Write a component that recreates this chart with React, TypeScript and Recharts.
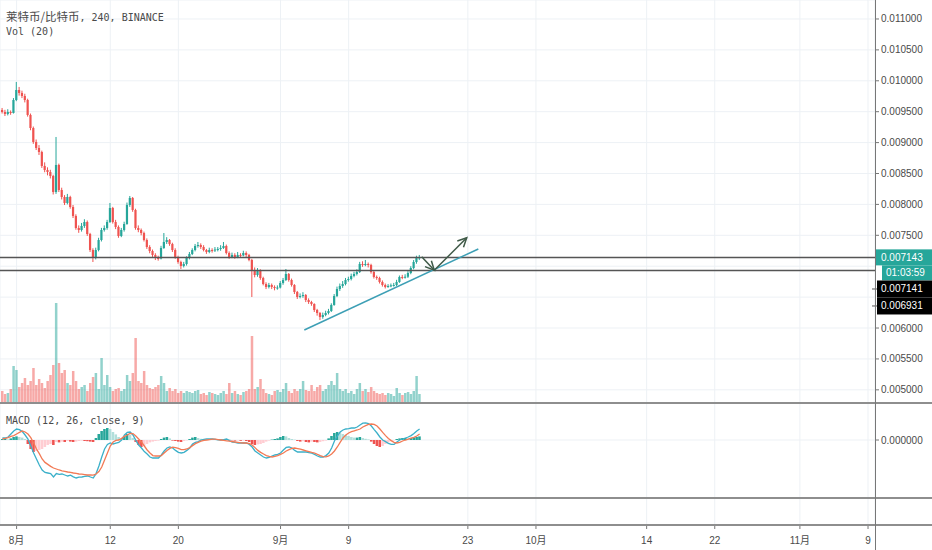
import {
  Bar,
  CartesianGrid,
  Cell,
  ComposedChart,
  Line,
  ReferenceLine,
  XAxis,
  YAxis,
} from "recharts";

// LTC/BTC, 8h candles, prices in 1e-6 BTC
const opens = [
  9528, 9495, 9463, 9495, 9479, 9689, 9851, 9803, 9754, 9689,
  9447, 9236, 9010, 8913, 8848, 8622, 8557, 8524, 8460, 8201,
  8638, 8233, 8120, 8023, 8120, 7958, 7813, 7618, 7586, 7651,
  7715, 7521, 7262, 7133, 7262, 7424, 7586, 7618, 7715, 7942,
  7715, 7635, 7489, 7586, 7683, 7991, 8104, 7910, 7618, 7586,
  7537, 7424, 7311, 7246, 7182, 7133, 7125, 7295, 7392, 7424,
  7359, 7262, 7149, 7068, 7004, 7036, 7133, 7198, 7262, 7327,
  7343, 7311, 7262, 7230, 7262, 7255, 7270, 7279, 7295, 7327,
  7214, 7149, 7182, 7149, 7182, 7175, 7214, 7182, 7101, 6939,
  6858, 6939, 6809, 6712, 6664, 6696, 6664, 6648, 6655, 6728,
  6777, 6874, 6777, 6696, 6583, 6502, 6518, 6534, 6453, 6421,
  6389, 6292, 6243, 6178, 6211, 6243, 6275, 6373, 6518, 6631,
  6680, 6712, 6777, 6793, 6842, 6874, 6906, 7036, 7020, 7036,
  7020, 6906, 6826, 6809, 6745, 6696, 6664, 6680, 6690, 6696,
  6745, 6826, 6815, 6830, 6890, 6971, 7068, 7133,
];
const highs = [
  9560, 9530, 9540, 9520, 9720, 9981, 9900, 9840, 9790, 9710,
  9470, 9260, 9050, 8960, 8870, 8680, 8600, 8560, 8480, 9091,
  8660, 8270, 8150, 8170, 8140, 7990, 7840, 7660, 7700, 7760,
  7740, 7540, 7290, 7300, 7460, 7620, 7660, 7750, 8023, 7960,
  7750, 7660, 7620, 7720, 8030, 8136, 8120, 7930, 7660, 7610,
  7560, 7450, 7340, 7270, 7210, 7170, 7330, 7537, 7470, 7440,
  7380, 7290, 7170, 7090, 7070, 7160, 7230, 7290, 7360, 7392,
  7370, 7340, 7280, 7300, 7290, 7310, 7310, 7340, 7392, 7350,
  7240, 7220, 7210, 7230, 7210, 7250, 7240, 7200, 7120, 6980,
  6970, 6950, 6830, 6740, 6730, 6720, 6690, 6690, 6760, 6810,
  6955, 6890, 6800, 6710, 6600, 6560, 6580, 6550, 6480, 6440,
  6400, 6310, 6260, 6250, 6280, 6310, 6400, 6550, 6670, 6720,
  6760, 6810, 6830, 6880, 6910, 6950, 7070, 7080, 7101, 7060,
  7040, 6930, 6850, 6830, 6770, 6720, 6710, 6720, 6730, 6780,
  6850, 6860, 6870, 6920, 7000, 7100, 7170, 7182,
];
const lows = [
  9470, 9430, 9440, 9450, 9470, 9670, 9760, 9720, 9650, 9420,
  9200, 8980, 8880, 8800, 8590, 8520, 8470, 8420, 8160, 8170,
  8200, 8080, 7990, 8000, 7930, 7780, 7590, 7540, 7560, 7620,
  7490, 7230, 7068, 7110, 7240, 7400, 7560, 7590, 7700, 7690,
  7600, 7460, 7470, 7560, 7670, 7960, 7880, 7590, 7550, 7500,
  7400, 7280, 7210, 7150, 7100, 7090, 7110, 7280, 7360, 7330,
  7230, 7120, 7040, 6955, 6980, 7010, 7110, 7180, 7240, 7300,
  7280, 7240, 7200, 7210, 7220, 7230, 7240, 7250, 7280, 7190,
  7120, 7130, 7120, 7130, 7150, 7160, 7150, 7080, 6502, 6820,
  6830, 6780, 6690, 6630, 6640, 6630, 6610, 6620, 6640, 6700,
  6760, 6750, 6670, 6550, 6470, 6480, 6490, 6420, 6390, 6360,
  6260, 6200, 6130, 6150, 6190, 6220, 6260, 6360, 6500, 6600,
  6650, 6690, 6750, 6770, 6820, 6850, 6890, 6990, 7000, 6980,
  6880, 6800, 6780, 6720, 6670, 6640, 6650, 6660, 6670, 6680,
  6730, 6790, 6800, 6810, 6870, 6950, 7040, 7100,
];
const closes = [
  9495, 9463, 9495, 9479, 9689, 9851, 9803, 9754, 9689, 9447,
  9236, 9010, 8913, 8848, 8622, 8557, 8524, 8460, 8201, 8638,
  8233, 8120, 8023, 8120, 7958, 7813, 7618, 7586, 7651, 7715,
  7521, 7262, 7133, 7262, 7424, 7586, 7618, 7715, 7942, 7715,
  7635, 7489, 7586, 7683, 7991, 8104, 7910, 7618, 7586, 7537,
  7424, 7311, 7246, 7182, 7133, 7125, 7295, 7392, 7424, 7359,
  7262, 7149, 7068, 7004, 7036, 7133, 7198, 7262, 7327, 7343,
  7311, 7262, 7230, 7262, 7255, 7270, 7279, 7295, 7327, 7214,
  7149, 7182, 7149, 7182, 7175, 7214, 7182, 7101, 6939, 6858,
  6939, 6809, 6712, 6664, 6696, 6664, 6648, 6655, 6728, 6777,
  6874, 6777, 6696, 6583, 6502, 6518, 6534, 6453, 6421, 6389,
  6292, 6243, 6178, 6211, 6243, 6275, 6373, 6518, 6631, 6680,
  6712, 6777, 6793, 6842, 6874, 6906, 7036, 7020, 7036, 7020,
  6906, 6826, 6809, 6745, 6696, 6664, 6680, 6690, 6696, 6745,
  6826, 6815, 6830, 6890, 6971, 7068, 7133, 7143,
];
// volume, arbitrary units
const volumes = [
  12, 9, 10, 14, 37, 33, 16, 20, 25, 18,
  22, 35, 18, 24, 20, 15, 22, 28, 38, 100,
  40, 30, 33, 20, 18, 32, 22, 14, 16, 18,
  12, 20, 26, 30, 14, 45, 18, 28, 16, 12,
  14, 15, 12, 14, 28, 22, 30, 65, 22, 20,
  32, 18, 15, 14, 16, 18, 27, 20, 12, 15,
  12, 14, 10, 12, 10, 12, 11, 10, 12, 13,
  9, 10, 8, 11, 10, 9, 8, 10, 12, 9,
  20, 10, 12, 9, 8, 11, 12, 14, 67, 14,
  16, 24, 14, 10, 9, 8, 12, 13, 11, 14,
  20, 12, 10, 14, 12, 14, 22, 13, 12, 18,
  12, 16, 18, 12, 14, 18, 22, 18, 30, 14,
  12, 14, 10, 12, 9, 14, 20, 12, 14, 11,
  16, 12, 10, 9, 10, 8, 10, 9, 7, 15,
  10, 8, 10, 11, 9, 12, 27, 9,
];
// MACD (12, 26, close, 9), in 1e-6 BTC
const macdLine = [
  10, 10, 15, 30, 45, 55, 52, 42, 25, 5,
  -30, -65, -95, -125, -150, -162, -165, -168, -185, -168,
  -172, -170, -175, -180, -176, -184, -190, -186, -185, -182,
  -180, -185, -190, -168, -130, -85, -45, -22, -15, -20,
  -16, -12, 0, 25, 38, 40, 25, -2, -25, -40,
  -58, -70, -85, -90, -90, -90, -75, -55, -40, -35,
  -40, -52, -62, -65, -62, -52, -40, -20, -12, -8,
  0, 3, 5, 5, 5, 3, 1, 0, 2, 5,
  -3, -10, -12, -15, -15, -15, -15, -22, -35, -55,
  -65, -75, -85, -90, -87, -80, -75, -72, -65, -50,
  -37, -35, -40, -52, -60, -60, -60, -60, -63, -66,
  -72, -80, -85, -85, -78, -65, -40, -5, 20, 40,
  50, 55, 57, 60, 60, 65, 75, 84, 86, 82,
  70, 52, 35, 15, 0, -8, -17, -22, -22, -10,
  0, 5, 10, 15, 22, 32, 45, 55,
];
const signalLine = [
  5, 8, 12, 18, 22, 30, 38, 45, 40, 30,
  12, -15, -45, -68, -95, -112, -122, -132, -140, -145,
  -150, -154, -157, -160, -162, -165, -167, -170, -171, -173,
  -175, -175, -176, -170, -158, -135, -100, -65, -30, -10,
  -2, 0, 8, 18, 25, 33, 32, 20, 5, -10,
  -30, -50, -65, -78, -80, -80, -78, -65, -52, -42,
  -36, -38, -42, -48, -48, -45, -38, -28, -18, -12,
  -6, -2, 0, 2, 4, 4, 2, 0, -2, -4,
  -6, -8, -10, -12, -14, -15, -15, -18, -25, -38,
  -52, -62, -70, -78, -82, -85, -82, -78, -72, -65,
  -55, -48, -42, -40, -43, -46, -50, -54, -58, -62,
  -65, -72, -78, -83, -84, -80, -70, -55, -35, -12,
  10, 25, 35, 42, 46, 50, 55, 65, 72, 78,
  80, 78, 70, 55, 38, 22, 8, -3, -12, -15,
  -12, -5, 0, 4, 9, 13, 20, 30,
];
const histogram = [
  5, 5, 3, 8, 15, 18, 15, 12, 5, -20,
  -45, -60, -55, -50, -45, -35, -25, -20, -25, -10,
  -12, -8, -10, -5, -8, -10, -8, -5, -3, -5,
  -6, -8, -10, 10, 30, 45, 55, 60, 55, 40,
  28, 15, 5, 20, 30, 25, 10, -10, -25, -35,
  -30, -20, -12, -8, -5, -3, 5, 12, 15, 8,
  -3, -5, -8, -10, -5, -2, 5, 12, 15, 10,
  6, 4, 2, 2, 1, 0, 1, 2, 3, 5,
  3, -2, -3, -2, -4, -3, -5, -10, -20, -25,
  -22, -20, -15, -8, -3, 2, 5, 8, 15, 20,
  18, 10, 5, 2, -5, -8, -6, -10, -12, -8,
  -10, -12, -10, -6, -3, 8, 20, 35, 40, 38,
  30, 25, 20, 15, 12, 12, 15, 10, 6, 3,
  -8, -20, -30, -35, -30, -20, -12, -6, -2, 5,
  8, 10, 10, 8, 10, 12, 15, 18,
];

// time axis: days counted from 1 Aug
const dateTicks = [0, 11, 19, 31, 39, 53, 61, 74, 82, 92, 100];
const dateLabels = ["8月", "12", "20", "9月", "9", "23", "10月", "14", "22", "11月", "9"];
const priceTicks = [5000, 5500, 6000, 6500, 7000, 7500, 8000, 8500, 9000, 9500, 10000, 10500, 11000];
const hiddenPriceLabels = [6500, 7000];

const LAST_PRICE = 7143;
const LEVEL_HIGH = 7141;
const LEVEL_LOW = 6931;
const COUNTDOWN = "01:03:59";

const FIRST_CANDLE_DAY = -5 / 3; // 30 Jul 08:00
const CANDLE_DAYS = 1 / 3;
const X_DOMAIN = [-1.95, 100.82];
const PRICE_DOMAIN = [4787, 11307];
const VOL_DOMAIN = [0, 403];
const MACD_DOMAIN = [-290, 185];

const UP = "#26a69a";
const DOWN = "#ef5350";
const GRID = "#edf1f5";
const TEXT = "#4a4a4a";
const TICK_FONT = '"Liberation Sans", "Noto Sans CJK SC", Arial, sans-serif';
const MONO = '"DejaVu Sans Mono", monospace';

const data = closes.map((close, i) => ({
  t: FIRST_CANDLE_DAY + i * CANDLE_DAYS,
  open: opens[i],
  high: highs[i],
  low: lows[i],
  close,
  volume: volumes[i],
  macd: macdLine[i],
  signal: signalLine[i],
  hist: histogram[i],
}));

const fmtPrice = (v: number) => (v / 1e6).toFixed(6);

function histColor(i: number) {
  const v = histogram[i];
  const prev = i > 0 ? histogram[i - 1] : 0;
  if (v >= 0) return v >= prev ? "#26a69a" : "#b2dfdb";
  return v <= prev ? "#ef5350" : "#ffcdd2";
}

function Candle(props: any) {
  const { x, y, width, height, payload } = props;
  if (x == null || y == null) return <g />;
  const top = Math.min(y, y + height);
  const h = Math.abs(height);
  const span = payload.high - payload.low || 1;
  const toY = (v: number) => top + ((payload.high - v) / span) * h;
  const color = payload.close >= payload.open ? UP : DOWN;
  const bodyTop = toY(Math.max(payload.open, payload.close));
  const bodyBottom = toY(Math.min(payload.open, payload.close));
  const cx = x + width / 2;
  return (
    <g>
      <line x1={cx} x2={cx} y1={top} y2={top + h} stroke={color} strokeWidth={1} />
      <rect x={x} y={bodyTop} width={width} height={Math.max(1, bodyBottom - bodyTop)} fill={color} />
    </g>
  );
}

function PriceTick(props: any) {
  const { x, y, payload } = props;
  if (hiddenPriceLabels.includes(payload.value)) return <g />;
  return (
    <g>
      <line x1={x} x2={x + 4} y1={y} y2={y} stroke="#777" />
      <text x={x + 6} y={y + 3.5} fontSize={10} fontFamily={TICK_FONT} fill={TEXT}>
        {fmtPrice(payload.value)}
      </text>
    </g>
  );
}

function plainTick(text: string) {
  return (props: any) => {
    const { x, y } = props;
    return (
      <g>
        <line x1={x} x2={x + 4} y1={y} y2={y} stroke="#777" />
        <text x={x + 6} y={y + 3.5} fontSize={10} fontFamily={TICK_FONT} fill={TEXT}>
          {text}
        </text>
      </g>
    );
  };
}

function DateTick(props: any) {
  const { x, y, payload } = props;
  const label = dateLabels[dateTicks.indexOf(payload.value)];
  return (
    <g>
      <line x1={x} x2={x} y1={y} y2={y + 4} stroke="#777" />
      <text x={x} y={y + 19} textAnchor="middle" fontSize={10} fontFamily={TICK_FONT} fill={TEXT}>
        {label}
      </text>
    </g>
  );
}

function LastPriceLabel(props: any) {
  const vb = props.viewBox || {};
  const right = (vb.x || 0) + (vb.width || 0);
  const y = vb.y || 0;
  return (
    <g>
      <rect x={right} y={y - 8} width={57} height={16} fill={UP} />
      <text x={right + 6} y={y + 3.5} fontSize={10} fontFamily={TICK_FONT} fill="#fff">
        {fmtPrice(LAST_PRICE)}
      </text>
      <rect x={right + 7} y={y + 8} width={50} height={15} fill={UP} />
      <text x={right + 11} y={y + 19} fontSize={10} fontFamily={TICK_FONT} fill="#fff">
        {COUNTDOWN}
      </text>
    </g>
  );
}

function levelLabel(value: number, offset: number) {
  return (props: any) => {
    const vb = props.viewBox || {};
    const right = (vb.x || 0) + (vb.width || 0);
    const top = (vb.y || 0) + offset;
    return (
      <g>
        <line x1={right - 3} x2={right + 2} y1={top + 8.5} y2={top + 8.5} stroke="#555" />
        <rect x={right + 2} y={top} width={55} height={17} fill="#000" />
        <text x={right + 6} y={top + 12} fontSize={10} fontFamily={TICK_FONT} fill="#fff">
          {fmtPrice(value)}
        </text>
      </g>
    );
  };
}

function ArrowShape(props: any) {
  const { x1, y1, x2, y2 } = props;
  const a = Math.atan2(y2 - y1, x2 - x1);
  const len = 10;
  const p1 = [x2 - len * Math.cos(a - 0.45), y2 - len * Math.sin(a - 0.45)];
  const p2 = [x2 - len * Math.cos(a + 0.45), y2 - len * Math.sin(a + 0.45)];
  return (
    <g stroke="#3f5a48" strokeWidth={1.5} fill="none">
      <line x1={x1} y1={y1} x2={x2} y2={y2} />
      <polyline points={`${p1[0]},${p1[1]} ${x2},${y2} ${p2[0]},${p2[1]}`} />
    </g>
  );
}

const layer = (top: number): React.CSSProperties => ({ position: "absolute", left: 0, top });

export default function App() {
  return (
    <div
      style={{
        position: "fixed",
        left: 0,
        top: 0,
        width: 932,
        height: 550,
        background: "#fff",
        overflow: "hidden",
      }}
    >
      {/* volume + grid, under the candles */}
      <div style={layer(0)}>
        <ComposedChart width={932} height={403} data={data} margin={{ top: 0, right: 57, bottom: 0, left: 0 }}>
          <CartesianGrid stroke={GRID} yAxisId="grid" />
          <XAxis dataKey="t" type="number" domain={X_DOMAIN} ticks={dateTicks} allowDataOverflow hide />
          <YAxis yAxisId="grid" domain={PRICE_DOMAIN} ticks={priceTicks} allowDataOverflow hide />
          <YAxis yAxisId="vol" domain={VOL_DOMAIN} allowDataOverflow hide />
          <Bar yAxisId="vol" dataKey="volume" barSize={2.5} isAnimationActive={false}>
            {data.map((d, i) => (
              <Cell key={i} fill={d.close >= d.open ? UP : DOWN} fillOpacity={0.5} />
            ))}
          </Bar>
        </ComposedChart>
      </div>

      {/* price pane */}
      <div style={layer(0)}>
        <ComposedChart width={932} height={403} data={data} margin={{ top: 0, right: 0, bottom: 0, left: 0 }}>
          <XAxis dataKey="t" type="number" domain={X_DOMAIN} ticks={dateTicks} allowDataOverflow hide />
          <YAxis
            yAxisId="price"
            orientation="right"
            width={57}
            domain={PRICE_DOMAIN}
            ticks={priceTicks}
            interval={0}
            allowDataOverflow
            axisLine={false}
            tickLine={false}
            tickSize={0}
            tickMargin={0}
            tick={<PriceTick />}
          />
          <Bar
            yAxisId="price"
            dataKey={(d: any) => [d.low, d.high]}
            barSize={2.2}
            shape={<Candle />}
            isAnimationActive={false}
          />
          <ReferenceLine yAxisId="price" y={LAST_PRICE} stroke="transparent" label={(p: any) => <LastPriceLabel {...p} />} />
          <ReferenceLine yAxisId="price" y={LEVEL_HIGH} stroke="#555" strokeWidth={1.5} label={levelLabel(LEVEL_HIGH, 23)} />
          <ReferenceLine yAxisId="price" y={LEVEL_LOW} stroke="#555" strokeWidth={1.5} label={levelLabel(LEVEL_LOW, 27)} />
          <ReferenceLine
            yAxisId="price"
            segment={[{ x: 33.79, y: 5968 }, { x: 54.23, y: 7279 }]}
            stroke="#3d9fb5"
            strokeWidth={1.5}
          />
          <ReferenceLine
            yAxisId="price"
            segment={[{ x: 47.58, y: 7154 }, { x: 49.06, y: 6934 }]}
            shape={(p: any) => <ArrowShape {...p} />}
          />
          <ReferenceLine
            yAxisId="price"
            segment={[{ x: 49.06, y: 6934 }, { x: 52.87, y: 7461 }]}
            shape={(p: any) => <ArrowShape {...p} />}
          />
        </ComposedChart>
      </div>

      {/* MACD pane */}
      <div style={layer(403)}>
        <ComposedChart width={932} height={95} data={data} margin={{ top: 0, right: 0, bottom: 0, left: 0 }}>
          <CartesianGrid stroke={GRID} />
          <XAxis dataKey="t" type="number" domain={X_DOMAIN} ticks={dateTicks} allowDataOverflow hide />
          <YAxis
            orientation="right"
            width={57}
            domain={MACD_DOMAIN}
            ticks={[0]}
            allowDataOverflow
            axisLine={false}
            tickLine={false}
            tickSize={0}
            tickMargin={0}
            tick={plainTick(fmtPrice(0))}
          />
          <Bar dataKey="hist" barSize={2.9} isAnimationActive={false}>
            {data.map((_, i) => (
              <Cell key={i} fill={histColor(i)} />
            ))}
          </Bar>
          <Line dataKey="macd" stroke="#3bb0c9" strokeWidth={1.3} dot={false} isAnimationActive={false} />
          <Line dataKey="signal" stroke="#f27a55" strokeWidth={1.3} dot={false} isAnimationActive={false} />
        </ComposedChart>
      </div>

      {/* empty bottom pane + time axis */}
      <div style={layer(498)}>
        <ComposedChart width={932} height={52} data={data} margin={{ top: 0, right: 0, bottom: 0, left: 0 }}>
          <CartesianGrid stroke={GRID} />
          <XAxis
            dataKey="t"
            type="number"
            domain={X_DOMAIN}
            ticks={dateTicks}
            interval={0}
            allowDataOverflow
            height={25}
            axisLine={false}
            tickLine={false}
            tickSize={0}
            tickMargin={0}
            tick={<DateTick />}
          />
          <YAxis
            orientation="right"
            width={57}
            domain={[-1, 1]}
            ticks={[0]}
            axisLine={false}
            tickLine={false}
            tickSize={0}
            tickMargin={0}
            tick={plainTick("0")}
          />
        </ComposedChart>
      </div>

      {/* pane separators and price scale border */}
      <div style={{ position: "absolute", left: 0, top: 402, width: 932, height: 2, background: "#8e8e8e" }} />
      <div style={{ position: "absolute", left: 0, top: 497, width: 932, height: 2, background: "#8e8e8e" }} />
      <div style={{ position: "absolute", left: 0, top: 524, width: 932, height: 2, background: "#8e8e8e" }} />
      <div style={{ position: "absolute", left: 875, top: 0, width: 1, height: 550, background: "#777" }} />

      {/* legends */}
      <div
        style={{
          position: "absolute",
          left: 6,
          top: 9,
          lineHeight: "14px",
          fontSize: 10,
          color: TEXT,
          fontFamily: MONO,
          whiteSpace: "nowrap",
        }}
      >
        <span style={{ fontFamily: '"Noto Sans CJK SC", sans-serif', fontSize: 11.5 }}>莱特币/比特币</span>
        <span>, 240, BINANCE</span>
      </div>
      <div style={{ position: "absolute", left: 6, top: 25, lineHeight: "14px", fontSize: 10, color: TEXT, fontFamily: MONO }}>
        Vol (20)
      </div>
      <div style={{ position: "absolute", left: 6, top: 414, lineHeight: "14px", fontSize: 10, color: TEXT, fontFamily: MONO }}>
        MACD (12, 26, close, 9)
      </div>
    </div>
  );
}
